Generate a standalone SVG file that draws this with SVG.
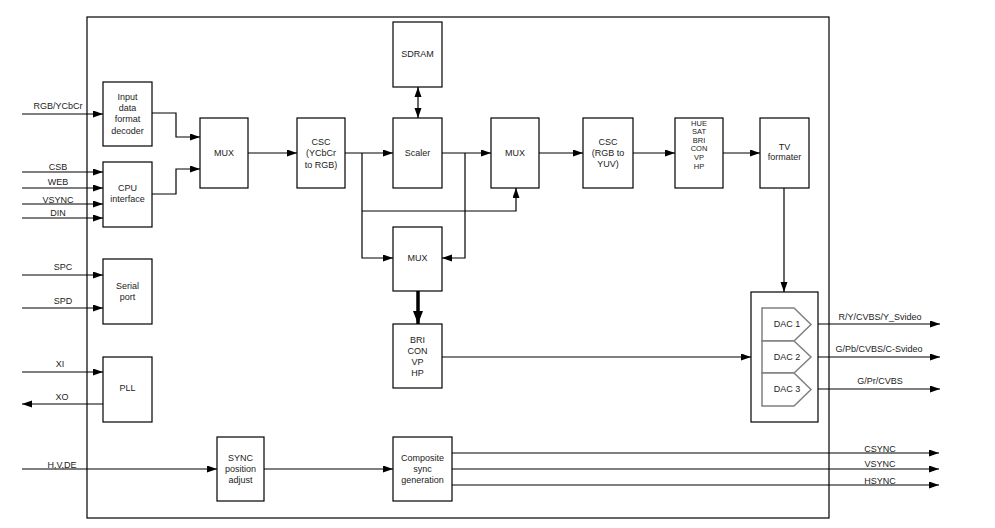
<svg xmlns="http://www.w3.org/2000/svg" width="995" height="528" viewBox="0 0 995 528">
<defs>
<style>
.box{fill:#fff;stroke:#000;stroke-width:1.2}
.dac{fill:#fff;stroke:#808080;stroke-width:1.5}
.ln{fill:none;stroke:#000;stroke-width:1.2}
.thick{fill:none;stroke:#000;stroke-width:3.5}
text{font-family:"Liberation Sans",Arial,sans-serif;font-size:9px;fill:#222;text-anchor:middle}
.tight{font-size:7.5px}
</style>
<marker id="ah" markerUnits="userSpaceOnUse" markerWidth="11" markerHeight="8" refX="10" refY="3.5" orient="auto">
<path d="M0,0 L10,3.5 L0,7 Z" fill="#000"/>
</marker>
<marker id="ahs" markerUnits="userSpaceOnUse" markerWidth="11" markerHeight="8" refX="0" refY="3.5" orient="auto">
<path d="M10,0 L0,3.5 L10,7 Z" fill="#000"/>
</marker>
<marker id="aht" markerUnits="userSpaceOnUse" markerWidth="10" markerHeight="14" refX="13" refY="5" orient="auto">
<path d="M0,0 L13,5 L0,10 Z" fill="#000"/>
</marker>
</defs>
<rect width="995" height="528" fill="#fff"/>
<rect id="outer" x="87" y="17" width="742" height="501" class="box" fill="none"/>

<g id="connectors">
<path class="ln" d="M22,114 H103" marker-end="url(#ah)"/>
<path class="ln" d="M22,172 H103" marker-end="url(#ah)"/>
<path class="ln" d="M22,188 H103" marker-end="url(#ah)"/>
<path class="ln" d="M22,204 H103" marker-end="url(#ah)"/>
<path class="ln" d="M22,218 H103" marker-end="url(#ah)"/>
<path class="ln" d="M22,275 H103" marker-end="url(#ah)"/>
<path class="ln" d="M22,308 H103" marker-end="url(#ah)"/>
<path class="ln" d="M22,372 H103" marker-end="url(#ah)"/>
<path class="ln" d="M103,404 H22" marker-end="url(#ah)"/>
<path class="ln" d="M22,469 H217" marker-end="url(#ah)"/>
<path class="ln" d="M152,113 H176 V137 H200" marker-end="url(#ah)"/>
<path class="ln" d="M152,194 H176 V169 H200" marker-end="url(#ah)"/>
<path class="ln" d="M248,153 H297" marker-end="url(#ah)"/>
<path class="ln" d="M345,153 H393" marker-end="url(#ah)"/>
<path class="ln" d="M362,153 V258 H393" marker-end="url(#ah)"/>
<path class="ln" d="M362,211 H516 V188" marker-end="url(#ah)"/>
<path class="ln" d="M442,153 H491" marker-end="url(#ah)"/>
<path class="ln" d="M465,153 V258 H442" marker-end="url(#ah)"/>
<path class="ln" d="M418,87 V118" marker-start="url(#ahs)" marker-end="url(#ah)"/>
<path class="ln" d="M539,153 H583" marker-end="url(#ah)"/>
<path class="ln" d="M633,153 H675" marker-end="url(#ah)"/>
<path class="ln" d="M723,153 H760" marker-end="url(#ah)"/>
<path class="ln" d="M784,188 V292" marker-end="url(#ah)"/>
<path class="thick" d="M418,291 V324" marker-end="url(#aht)"/>
<path class="ln" d="M442,357 H751" marker-end="url(#ah)"/>
<path class="ln" d="M811,324 H940" marker-end="url(#ah)"/>
<path class="ln" d="M811,357 H940" marker-end="url(#ah)"/>
<path class="ln" d="M811,389 H940" marker-end="url(#ah)"/>
<path class="ln" d="M264,469 H393" marker-end="url(#ah)"/>
<path class="ln" d="M452,453 H939" marker-end="url(#ah)"/>
<path class="ln" d="M452,469 H939" marker-end="url(#ah)"/>
<path class="ln" d="M452,485 H939" marker-end="url(#ah)"/>
</g>

<g id="labels">
<text x="58" y="109">RGB/YCbCr</text>
<text x="58" y="170">CSB</text>
<text x="58" y="185">WEB</text>
<text x="58" y="203">VSYNC</text>
<text x="58" y="216">DIN</text>
<text x="63" y="270">SPC</text>
<text x="63" y="304">SPD</text>
<text x="60" y="367">XI</text>
<text x="62" y="400">XO</text>
<text x="62" y="468">H,V,DE</text>
<text x="880" y="320">R/Y/CVBS/Y_Svideo</text>
<text x="879" y="352">G/Pb/CVBS/C-Svideo</text>
<text x="880" y="384">G/Pr/CVBS</text>
<text x="880" y="452">CSYNC</text>
<text x="880" y="467">VSYNC</text>
<text x="880" y="484">HSYNC</text>
</g>

<g id="decoder"><rect class="box" x="103" y="82" width="49" height="64"/>
<text x="127.5" y="100">Input</text><text x="127.5" y="111">data</text><text x="127.5" y="122">format</text><text x="127.5" y="134">decoder</text></g>
<g id="cpu"><rect class="box" x="103" y="162" width="49" height="65"/>
<text x="127.5" y="191">CPU</text><text x="127.5" y="202">interface</text></g>
<g id="serial"><rect class="box" x="103" y="259" width="49" height="65"/>
<text x="127.5" y="289">Serial</text><text x="127.5" y="300">port</text></g>
<g id="pll"><rect class="box" x="103" y="357" width="49" height="65"/>
<text x="127.5" y="391">PLL</text></g>
<g id="mux1"><rect class="box" x="200" y="118" width="48" height="70"/>
<text x="224" y="156">MUX</text></g>
<g id="csc1"><rect class="box" x="297" y="118" width="48" height="70"/>
<text x="321" y="145">CSC</text><text x="321" y="156">(YCbCr</text><text x="321" y="168">to RGB)</text></g>
<g id="sdram"><rect class="box" x="393" y="22" width="49" height="65"/>
<text x="417.5" y="57">SDRAM</text></g>
<g id="scaler"><rect class="box" x="393" y="118" width="49" height="70"/>
<text x="417.5" y="156">Scaler</text></g>
<g id="mux2"><rect class="box" x="491" y="118" width="48" height="70"/>
<text x="515" y="156">MUX</text></g>
<g id="mux3"><rect class="box" x="393" y="227" width="49" height="64"/>
<text x="417.5" y="261">MUX</text></g>
<g id="bri"><rect class="box" x="393" y="324" width="49" height="64"/>
<text x="417.5" y="343">BRI</text><text x="417.5" y="354">CON</text><text x="417.5" y="365">VP</text><text x="417.5" y="376">HP</text></g>
<g id="csc2"><rect class="box" x="583" y="118" width="50" height="70"/>
<text x="608" y="145">CSC</text><text x="608" y="156">(RGB to</text><text x="608" y="167">YUV)</text></g>
<g id="hue"><rect class="box" x="675" y="118" width="48" height="70"/>
<text class="tight" x="699" y="125.5">HUE</text><text class="tight" x="699" y="134.1">SAT</text><text class="tight" x="699" y="142.7">BRI</text><text class="tight" x="699" y="151.3">CON</text><text class="tight" x="699" y="159.9">VP</text><text class="tight" x="699" y="168.5">HP</text></g>
<g id="tvformater"><rect class="box" x="760" y="118" width="49" height="70"/>
<text x="784.5" y="150">TV</text><text x="784.5" y="160">formater</text></g>
<g id="dacs"><rect class="box" x="751" y="292" width="67" height="130"/>
<polygon class="dac" points="762,308 794,308 811,324.5 794,341 762,341"/>
<polygon class="dac" points="762,341 794,341 811,357 794,373 762,373"/>
<polygon class="dac" points="762,373 794,373 811,389.5 794,406 762,406"/>
<text x="787" y="327">DAC 1</text><text x="787" y="360">DAC 2</text><text x="787" y="392">DAC 3</text></g>
<g id="syncpos"><rect class="box" x="217" y="437" width="47" height="64"/>
<text x="240.5" y="461">SYNC</text><text x="240.5" y="472">position</text><text x="240.5" y="483">adjust</text></g>
<g id="composite"><rect class="box" x="393" y="437" width="59" height="64"/>
<text x="422.5" y="461">Composite</text><text x="422.5" y="472">sync</text><text x="422.5" y="483">generation</text></g>
</svg>
